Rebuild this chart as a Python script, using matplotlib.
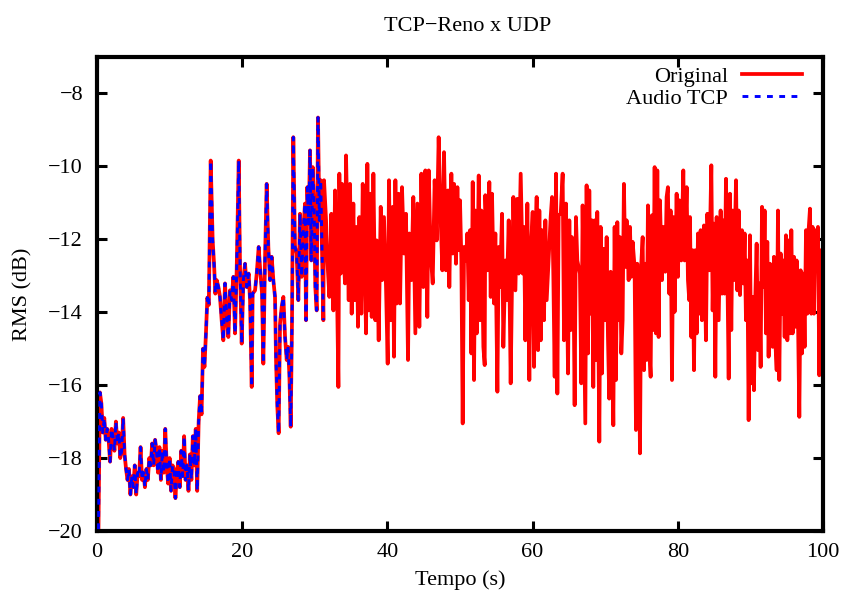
"""
RMS do audio: TCP-Reno x UDP
"""
import numpy as np
import matplotlib
matplotlib.use('Agg')
import matplotlib.pyplot as plt

plt.rcParams['font.family'] = ['Liberation Serif', 'DejaVu Serif']

# trecho inicial (Audio TCP e Original coincidem)
tcp_t = list(np.round(np.arange(1, 78) * 0.2, 2)) + [
    15.66, 15.93, 16.12, 16.30, 16.49, 16.72, 16.94, 17.17, 17.40, 17.63,
    17.86, 18.09, 18.32, 18.55, 18.78, 19.01, 19.24, 19.52, 19.70, 19.93,
    20.16, 20.39, 20.62, 20.89, 21.08, 21.31, 21.44, 21.77, 22.00, 22.27,
    22.45, 22.73, 22.91, 23.14, 23.37, 23.60, 23.83, 24.06, 24.29, 24.52,
    24.66, 24.84, 25.02, 25.21, 25.44, 25.67, 25.90, 26.13, 26.31, 26.49,
    26.68, 26.86, 27.04, 27.27, 27.50, 27.73, 27.96, 28.19, 28.42, 28.65,
    28.79, 28.97, 29.16, 29.34, 29.52, 29.71, 29.89, 30.07, 30.26, 30.44,
    30.63, 30.81, 31.00, 31.18]
tcp_rms = [
    -19.95, -16.2, -16.5, -17.3, -16.9, -17.5, -17.2, -17.5, -18.1, -17.2,
    -17.4, -17.8, -17.0, -17.6, -17.3, -18.0, -17.8, -16.9, -17.9, -18.3,
    -18.6, -18.3, -19.0, -18.5, -18.8, -18.2, -19.0, -18.4, -18.5, -17.7,
    -18.6, -18.4, -18.8, -18.3, -18.6, -18.0, -18.2, -17.6, -18.2, -17.5,
    -17.8, -18.4, -17.7, -18.6, -17.8, -18.4, -17.2, -18.2, -18.7, -18.0,
    -18.9, -18.2, -18.3, -19.1, -18.4, -18.1, -18.8, -17.8, -18.5, -17.4,
    -18.6, -18.2, -18.9, -17.9, -18.6, -17.4, -18.2, -17.2, -18.9, -17.0,
    -16.3, -16.8, -15.0, -15.5, -14.6, -13.6, -13.8,
    -9.84, -12.03, -12.67, -13.49, -13.12, -13.31, -13.58, -14.22, -14.77, -13.21,
    -14.13, -14.68, -13.40, -13.67, -13.03, -14.58, -12.85, -9.84, -12.76, -14.86,
    -13.12, -12.67, -13.31, -12.94, -13.67, -16.05, -13.49, -13.40, -12.94, -12.21,
    -12.76, -13.49, -15.41, -12.58, -10.48, -12.21, -13.12, -12.48, -13.12, -13.58,
    -15.31, -16.59, -17.32, -14.31, -13.85, -13.58, -14.68, -15.31, -14.95, -15.68,
    -17.14, -14.22, -9.20, -12.21, -12.39, -13.67, -11.30, -13.03, -11.75, -11.02,
    -14.22, -10.57, -11.57, -9.56, -12.58, -10.02, -11.02, -13.31, -13.95, -8.66,
    -11.48, -10.38, -12.39, -14.22]

# restante do sinal original
orig_t = [
    31.27, 31.55, 31.73, 32.01, 32.28, 32.56, 32.79, 33.02, 33.25, 33.38,
    33.57, 33.75, 33.93, 34.16, 34.30, 34.48, 34.67, 34.85, 35.08, 35.31,
    35.49, 35.77, 35.95, 36.14, 36.41, 36.60, 36.83, 37.06, 37.24, 37.42,
    37.61, 37.84, 38.07, 38.34, 38.52, 38.80, 39.08, 39.26, 39.53, 39.81,
    40.04, 40.22, 40.45, 40.73, 40.91, 41.10, 41.28, 41.55, 41.74, 42.01,
    42.29, 42.56, 42.84, 43.02, 43.30, 43.57, 43.85, 44.13, 44.40, 44.68,
    44.95, 45.23, 45.50, 45.69, 45.96, 46.24, 46.51, 46.79, 47.06, 47.34,
    47.57, 47.80, 48.07, 48.35, 48.53,
    48.81, 48.99, 49.18, 49.45, 49.64, 49.82, 50.00, 50.19, 50.37, 50.56,
    50.83, 51.01, 51.20, 51.38, 51.57, 51.75, 51.93, 52.12, 52.30, 52.58,
    52.76, 52.94, 53.22, 53.40, 53.49, 53.77, 54.04, 54.23, 54.41, 54.69,
    54.87, 55.15, 55.33, 55.51, 55.79, 55.97, 56.25, 56.43, 56.71, 56.98,
    57.17, 57.35, 57.63, 57.90, 58.08, 58.36, 58.64, 58.82, 59.00, 59.28,
    59.55, 59.74, 60.01, 60.20, 60.38, 60.56, 60.75, 60.93, 61.12, 61.30,
    61.57, 61.76, 61.94, 62.22, 62.49, 62.68, 62.86, 63.04, 63.23, 63.41,
    63.59, 63.87, 64.14, 64.33, 64.60, 64.88, 65.06,
    65.24, 65.42, 65.61, 65.79, 65.97, 66.16, 66.34, 66.52, 66.71, 66.89,
    67.08, 67.26, 67.44, 67.63, 67.81, 67.99, 68.18, 68.36, 68.54, 68.73,
    68.91, 69.19, 69.37, 69.55, 69.74, 70.01, 70.20, 70.38, 70.56, 70.75,
    70.93, 71.12, 71.30, 71.48, 71.67, 71.85, 72.03, 72.22, 72.40, 72.58,
    72.77, 72.95, 73.23, 73.41, 73.59, 73.78, 74.05, 74.24, 74.42, 74.60,
    74.79, 74.97, 75.16, 75.34, 75.52, 75.71, 75.89, 76.07, 76.26, 76.44,
    76.62, 76.81, 76.99, 77.18, 77.36, 77.54, 77.82, 78.00, 78.28, 78.46,
    78.64, 78.83, 79.01, 79.20, 79.38, 79.56, 79.84, 80.02, 80.21, 80.48,
    80.76, 80.94, 81.22, 81.40, 81.58,
    81.68, 81.86, 82.05, 82.23, 82.41, 82.60, 82.78, 82.97, 83.15, 83.33,
    83.61, 83.88, 84.07, 84.34, 84.62, 84.80, 84.99, 85.17, 85.35, 85.63,
    85.90, 86.09, 86.27, 86.45, 86.64, 86.82, 87.01, 87.19, 87.37, 87.56,
    87.74, 88.02, 88.20, 88.38, 88.57, 88.84, 89.03, 89.21, 89.39, 89.58,
    89.76, 89.94, 90.13, 90.31, 90.49, 90.68, 90.86, 91.05, 91.23, 91.41,
    91.60, 91.78, 91.96, 92.15, 92.33, 92.51, 92.70, 92.88, 93.07, 93.25,
    93.43, 93.62, 93.80, 93.98, 94.17, 94.35, 94.53, 94.72, 94.90, 95.09,
    95.27, 95.45, 95.64, 95.82, 96.00, 96.19, 96.37, 96.55, 96.74, 96.92,
    97.11, 97.29, 97.47, 97.66, 97.84, 98.02, 98.21, 98.39, 98.57, 98.76,
    98.94, 99.13, 99.31, 99.49, 99.68, 99.86]
orig_rms = [
    -10.38, -11.48, -12.58, -13.58, -11.30, -13.95, -10.66, -12.85, -16.05, -10.20,
    -12.94, -10.48, -12.21, -13.21, -9.70, -11.48, -13.67, -10.48, -14.04, -11.02,
    -13.67, -11.66, -14.40, -11.39, -14.04, -10.48, -12.30, -14.58, -9.93, -13.95,
    -10.75, -14.13, -10.20, -14.22, -12.03, -14.77, -11.11, -13.12, -11.39, -13.31,
    -15.41, -10.38, -14.22, -11.11, -15.22, -10.38, -13.76, -10.75, -13.76, -10.57,
    -12.39, -11.30, -15.31, -11.84, -13.12, -10.84, -14.58, -11.02, -14.40, -10.20,
    -13.31, -10.11, -14.13, -10.11, -12.39, -13.21, -10.38, -12.03, -9.20, -11.48,
    -12.85, -9.61, -12.85, -10.66, -13.31,
    -10.20, -12.39, -10.48, -12.67, -10.57, -12.30, -10.93, -12.58, -17.05, -12.21,
    -12.58, -11.84, -13.67, -11.75, -15.13, -10.43, -15.86, -11.21, -14.58, -10.25,
    -14.22, -11.21, -14.95, -15.45, -10.79, -12.85, -10.43, -13.58, -10.75, -13.76,
    -11.84, -16.18, -12.21, -13.31, -11.30, -14.95, -12.58, -13.67, -11.48, -15.95,
    -13.12, -10.84, -13.40, -10.89, -12.94, -10.20, -12.94, -11.66, -14.77, -11.02,
    -15.86, -12.39, -11.25, -15.50, -12.21, -10.84, -15.04, -11.21, -14.77, -11.75,
    -14.22, -11.48, -13.67, -12.48, -11.39, -10.84, -13.03, -15.77, -10.20, -16.23,
    -11.34, -11.30, -10.20, -14.77, -11.02, -15.68, -11.48,
    -14.49, -11.94, -12.58, -16.55, -11.39, -12.58, -12.76, -12.94, -15.95, -11.07,
    -14.22, -17.05, -10.52, -15.13, -10.66, -14.04, -11.48, -16.05, -11.48, -15.31,
    -11.25, -17.55, -11.66, -15.68, -12.26, -14.22, -11.94, -14.68, -16.37, -12.89,
    -14.13, -17.10, -11.66, -15.86, -11.53, -14.22, -11.94, -15.13, -14.22, -10.48,
    -12.76, -11.48, -13.12, -11.66, -13.03, -12.07, -12.76, -17.23, -12.67, -13.85,
    -17.87, -12.67, -11.94, -15.59, -12.67, -15.31, -11.07, -14.95, -15.77, -11.34,
    -14.49, -10.02, -14.58, -10.11, -14.68, -10.93, -13.12, -11.66, -12.89, -10.84,
    -10.57, -13.49, -11.21, -15.86, -11.39, -13.99, -10.75, -13.03, -10.93, -12.58,
    -10.11, -12.58, -10.57, -13.12, -13.67,
    -11.39, -14.68, -12.30, -15.59, -12.30, -14.58, -11.84, -14.04, -11.75, -14.22,
    -11.62, -14.77, -11.30, -12.85, -9.97, -13.95, -11.57, -15.77, -11.39, -14.22,
    -11.21, -13.49, -11.48, -13.49, -10.34, -12.76, -15.82, -10.75, -14.49, -11.21,
    -13.12, -10.38, -13.40, -11.21, -13.53, -11.75, -13.21, -11.84, -14.22, -12.58,
    -16.96, -11.89, -15.95, -13.58, -16.14, -13.58, -12.12, -15.04, -13.21, -15.50,
    -11.11, -13.31, -11.21, -14.58, -12.07, -15.22, -12.67, -14.58, -14.95, -12.48,
    -14.77, -15.59, -11.21, -15.86, -12.39, -14.04, -12.58, -14.68, -11.89, -14.77,
    -12.03, -14.58, -11.75, -14.58, -12.48, -14.40, -12.58, -14.04, -16.87, -12.85,
    -15.13, -12.94, -14.95, -11.75, -14.04, -11.75, -11.16, -14.04, -11.66, -14.04,
    -11.75, -12.67, -11.66, -15.73, -12.30, -14.58]

orig_time = list(tcp_t) + orig_t
orig_vals = tcp_rms + orig_rms

fig = plt.figure(figsize=(8.48, 5.97), dpi=100)
ax = fig.add_axes([0.1144, 0.1106, 0.8561, 0.7939])

ax.plot(orig_time, orig_vals, color='#ff0000', lw=2.7, label='Original', zorder=2)
ax.plot(tcp_t, tcp_rms, color='#0000ff', lw=2.1, ls=(0, (2.0, 2.2)),
        label='Audio TCP', zorder=3)

ax.set_xlim(0, 100)
ax.set_ylim(-20, -7)
ax.set_xticks([0, 20, 40, 60, 80, 100])
ax.set_yticks([-20, -18, -16, -14, -12, -10, -8])

for s in ax.spines.values():
    s.set_linewidth(3.0)
ax.tick_params(direction='in', length=7, width=2.2, top=True, right=True,
               labelsize=16)
ax.tick_params(axis='y', pad=10)
ax.tick_params(axis='x', pad=9)

fig.text(0.551, 0.955, 'TCP\u2212Reno x UDP', fontsize=16, ha='center', va='center')
ax.set_xlabel('Tempo (s)', fontsize=16)
ax.set_ylabel('RMS (dB)', fontsize=16)
ax.xaxis.set_label_coords(0.5, -0.083)
ax.yaxis.set_label_coords(-0.0895, 0.5)

leg = ax.legend(loc='upper right', frameon=False, markerfirst=False,
                fontsize=16, handlelength=2.7, handletextpad=0.63,
                labelspacing=0.05, borderaxespad=0.0, borderpad=0.0,
                bbox_to_anchor=(0.971, 0.98))

fig.savefig('out.png', dpi=100)
